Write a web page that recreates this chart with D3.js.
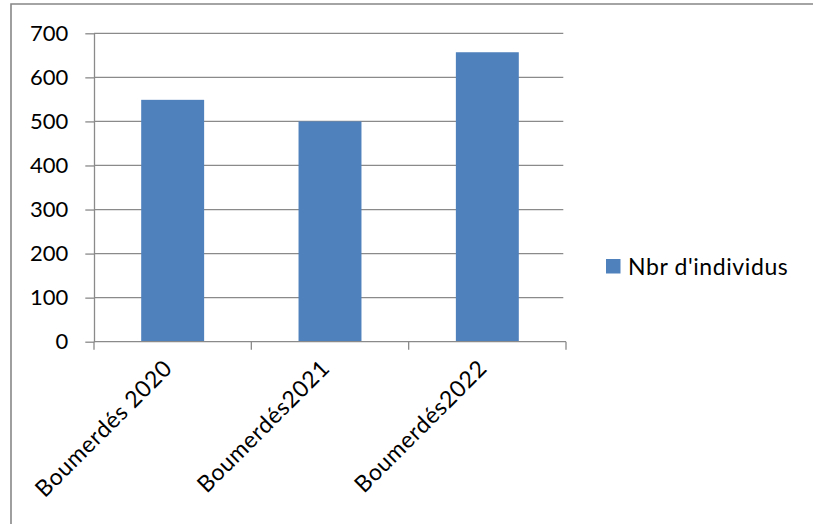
<!DOCTYPE html>
<html>
<head>
<meta charset="utf-8">
<script src="https://cdn.jsdelivr.net/npm/d3@7"></script>
<style>
  html, body { margin: 0; padding: 0; background: #fff; }
  svg { display: block; }
  text { font-family: Lato, "Open Sans", sans-serif; fill: #000; }
</style>
</head>
<body>
<svg id="chart" width="813" height="524"></svg>
<script>
// Individuals counted per year in Boumerdés
const categories = ["Boumerdés 2020", "Boumerdés2021", "Boumerdés2022"];
const values = [549, 500, 657];
const seriesName = "Nbr d'individus";
const yTicks = [0, 100, 200, 300, 400, 500, 600, 700];

const svg = d3.select("#chart");
const plot = { left: 94, right: 566, top: 33.3, bottom: 341.7 };
const barColor = "#4F81BD";
const lineColor = "#8a8a8a";

// chart frame
svg.append("path")
  .attr("d", "M11,524 L11,4 L813,4")
  .attr("fill", "none")
  .attr("stroke", "#878787")
  .attr("stroke-width", 1.6);

const x = d3.scaleBand().domain(categories).range([plot.left, plot.right]).paddingInner(0.6).paddingOuter(0.3);
const y = d3.scaleLinear().domain([0, 700]).range([plot.bottom, plot.top]);

// horizontal gridlines
svg.append("g")
  .selectAll("line")
  .data(yTicks.filter(d => d > 0))
  .join("line")
  .attr("x1", plot.left).attr("x2", plot.right - 2.7)
  .attr("y1", d => y(d)).attr("y2", d => y(d))
  .attr("stroke", lineColor).attr("stroke-width", 1.3);

// bars
svg.append("g")
  .selectAll("rect")
  .data(values)
  .join("rect")
  .attr("x", (d, i) => x(categories[i]))
  .attr("y", d => y(d))
  .attr("width", x.bandwidth())
  .attr("height", d => y(0) - y(d))
  .attr("fill", barColor);

// y axis
const yAxis = svg.append("g")
  .attr("transform", `translate(${plot.left},0)`)
  .call(d3.axisLeft(y).tickValues(yTicks).tickSize(8.7).tickPadding(17).tickSizeOuter(0));
yAxis.select(".domain").attr("stroke", lineColor).attr("stroke-width", 1.3);
yAxis.selectAll(".tick line").attr("stroke", lineColor).attr("stroke-width", 1.3);
yAxis.selectAll("text").attr("font-size", 22).attr("font-family", "Lato, sans-serif").attr("fill", "#000");

// x axis with category boundary ticks
const xAxisG = svg.append("g").attr("transform", `translate(0,${plot.bottom})`);
xAxisG.append("line")
  .attr("x1", plot.left).attr("x2", plot.right)
  .attr("stroke", lineColor).attr("stroke-width", 1.3);
const step = (plot.right - plot.left) / categories.length;
xAxisG.selectAll("line.tk")
  .data(d3.range(categories.length + 1))
  .join("line")
  .attr("class", "tk")
  .attr("x1", i => plot.left + i * step).attr("x2", i => plot.left + i * step)
  .attr("y1", 0).attr("y2", 8)
  .attr("stroke", lineColor).attr("stroke-width", 1.3);

xAxisG.selectAll("text")
  .data(categories)
  .join("text")
  .attr("text-anchor", "end")
  .attr("font-size", 23)
  .attr("letter-spacing", 0.6)
  .attr("transform", d => `translate(${x(d) + x.bandwidth() / 2 + 1},${28}) rotate(-45)`)
  .text(d => d);

// legend
const legend = svg.append("g").attr("transform", "translate(606,259)");
legend.append("rect").attr("width", 14.5).attr("height", 14.5).attr("fill", barColor);
legend.append("text").attr("x", 22).attr("y", 15.5).attr("font-size", 23).attr("letter-spacing", 0.6).text(seriesName);
</script>
</body>
</html>
